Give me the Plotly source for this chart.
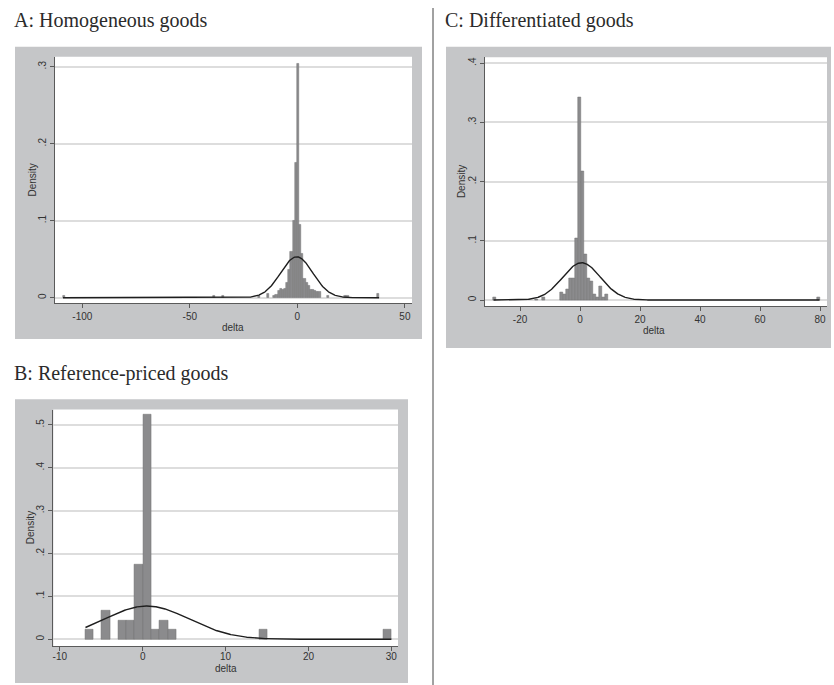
import numpy as np
import plotly.graph_objects as go

W, H = 834, 685

# ---------------- data ----------------
# Panel A: Homogeneous goods (bin width 1)
a_delta = [-108.7, -38.7, -34.7, -17.7, -13.7, -10.7,
           -9.7, -8.7, -7.7, -6.7, -5.7, -4.7, -3.7, -2.7, -1.7, -0.7,
           0.3, 1.3, 2.3, 3.3, 4.3, 5.3, 6.3, 7.3, 8.3, 9.3, 10.3,
           14.3, 22.3, 23.3, 37.3]
a_density = [0.003, 0.003, 0.003, 0.003, 0.005, 0.003,
             0.004, 0.009, 0.012, 0.010, 0.012, 0.020, 0.036, 0.060, 0.100, 0.175,
             0.304, 0.095, 0.057, 0.025, 0.019, 0.015, 0.011, 0.010, 0.009, 0.008, 0.008,
             0.003, 0.003, 0.002, 0.005]
a_mean, a_sd = -0.3, 7.5
a_min, a_max = -109.0, 38.0

# Panel B: Reference-priced goods (bin width 1)
b_delta = [-6.45, -4.45, -2.45, -1.45, -0.45, 0.55, 1.55, 2.55, 3.55, 14.55, 29.55]
b_density = [0.022, 0.066, 0.0435, 0.0435, 0.174, 0.523, 0.022, 0.0435, 0.022, 0.022, 0.022]
b_mean, b_sd = 0.5, 5.14
b_min, b_max = -6.9, 30.0

# Panel C: Differentiated goods (bin width 1)
c_delta = [-28.6, -14.4, -12.2,
           -6.3, -5.3, -4.3, -3.3, -2.3, -1.3, -0.3, 0.7, 1.7, 2.7, 3.7, 4.7, 5.7, 6.7, 7.7, 8.7,
           79.5]
c_density = [0.004, 0.002, 0.005,
             0.0135, 0.009, 0.018, 0.036, 0.036, 0.104, 0.342, 0.218, 0.077, 0.036, 0.031,
             0.009, 0.005, 0.0225, 0.005, 0.009,
             0.004]
c_mean, c_sd = 0.5, 6.33
c_min, c_max = -28.8, 79.8

bin_width = 1.0

a_xticks = [-100, -50, 0, 50]
a_yticks = [0, 0.1, 0.2, 0.3]
a_yticktext = ["0", ".1", ".2", ".3"]
b_xticks = [-10, 0, 10, 20, 30]
b_yticks = [0, 0.1, 0.2, 0.3, 0.4, 0.5]
b_yticktext = ["0", ".1", ".2", ".3", ".4", ".5"]
c_xticks = [-20, 0, 20, 40, 60, 80]
c_yticks = [0, 0.1, 0.2, 0.3, 0.4]
c_yticktext = ["0", ".1", ".2", ".3", ".4"]

titles = ["A: Homogeneous goods", "B: Reference-priced goods", "C: Differentiated goods"]
x_title = "delta"
y_title = "Density"

# ---------------- layout geometry (pixels) ----------------
def fx(px):
    return px / W

def fy(py):
    return 1 - py / H

panels = {
    "A": dict(box=(15, 46.7, 422, 339), plot=(55, 56.7, 412, 303.3),
              xr=[-112.7, 53.3], yr=[-0.00727, 0.313], ax="", title_xy=(12, 20.3),
              xt_xy=(233.5, 327.5), yt_xy=(31.5, 180), xstand=0),
    "B": dict(box=(15, 399.3, 408, 683), plot=(53.3, 409.5, 398, 646),
              xr=[-10.78, 30.8], yr=[-0.0156, 0.5357], ax="2", title_xy=(12, 373.3),
              xt_xy=(225.7, 668), yt_xy=(30.5, 527.7), xstand=-3),
    "C": dict(box=(446, 46.7, 831, 348), plot=(485, 57.3, 827, 306),
              xr=[-31.67, 82.3], yr=[-0.0101, 0.410], ax="3", title_xy=(442.5, 20.3),
              xt_xy=(654, 330.5), yt_xy=(461.5, 181.6), xstand=0),
}

BAR_FILL = "#8b8b8d"
BAR_LINE = "#707072"
BOX_GRAY = "#c5c6c8"
AXIS_COL = "#5a5a5a"
GRID_COL = "#dddddd"
TXT_COL = "#333333"
TICK_FONT = dict(family="Liberation Sans, Arial, sans-serif", size=10, color=TXT_COL)

fig = go.Figure()

series = {
    "A": (a_delta, a_density, a_mean, a_sd, a_min, a_max, a_xticks, a_yticks, a_yticktext),
    "B": (b_delta, b_density, b_mean, b_sd, b_min, b_max, b_xticks, b_yticks, b_yticktext),
    "C": (c_delta, c_density, c_mean, c_sd, c_min, c_max, c_xticks, c_yticks, c_yticktext),
}

shapes = []
annotations = []
layout_axes = {}

for i, key in enumerate(["A", "B", "C"]):
    p = panels[key]
    dx, dy, mu, sd, lo, hi, xt, yt, ytt = series[key]
    ax = p["ax"]
    xname = "x" + ax
    yname = "y" + ax

    fig.add_trace(go.Bar(
        x=dx, y=dy, width=bin_width,
        marker=dict(color=BAR_FILL, line=dict(color=BAR_LINE, width=0.5)),
        xaxis=xname, yaxis=yname, showlegend=False, hoverinfo="x+y",
    ))
    xs = np.linspace(lo, hi, 600)
    ys = np.exp(-0.5 * ((xs - mu) / sd) ** 2) / (sd * np.sqrt(2 * np.pi))
    fig.add_trace(go.Scatter(
        x=xs, y=ys, mode="lines", line=dict(color="#1e1e1e", width=1.4),
        xaxis=xname, yaxis=yname, showlegend=False, hoverinfo="skip",
    ))

    bx0, by0, bx1, by1 = p["box"]
    shapes.append(dict(type="rect", xref="paper", yref="paper",
                       x0=fx(bx0), x1=fx(bx1), y0=fy(by1), y1=fy(by0),
                       fillcolor=BOX_GRAY, line=dict(width=0), layer="below"))
    px0, py0, px1, py1 = p["plot"]
    shapes.append(dict(type="rect", xref="paper", yref="paper",
                       x0=fx(px0), x1=fx(px1), y0=fy(py1), y1=fy(py0),
                       fillcolor="white", line=dict(width=0), layer="below"))

    layout_axes["xaxis" + ax] = dict(
        domain=[fx(px0), fx(px1)], range=p["xr"], anchor=yname,
        tickvals=xt, ticktext=[str(v) for v in xt],
        showline=True, linecolor=AXIS_COL, linewidth=1,
        ticks="outside", ticklen=4, tickcolor=AXIS_COL, tickwidth=1,
        ticklabelstandoff=p["xstand"],
        showgrid=False, zeroline=False, tickfont=TICK_FONT,
        fixedrange=True,
    )
    layout_axes["yaxis" + ax] = dict(
        domain=[fy(py1), fy(py0)], range=p["yr"], anchor=xname,
        tickvals=yt, ticktext=ytt, tickangle=-90,
        showline=True, linecolor=AXIS_COL, linewidth=1,
        ticks="outside", ticklen=4, tickcolor=AXIS_COL, tickwidth=1,
        showgrid=True, gridcolor=GRID_COL, gridwidth=1.5,
        zeroline=False, tickfont=TICK_FONT,
        fixedrange=True,
    )

    tx, ty = p["title_xy"]
    annotations.append(dict(
        text=titles[i], xref="paper", yref="paper", x=fx(tx), y=fy(ty),
        xanchor="left", yanchor="middle", showarrow=False,
        font=dict(family="Liberation Serif, Times New Roman, serif", size=20, color="#2b2b2b"),
    ))
    xtx, xty = p["xt_xy"]
    annotations.append(dict(
        text=x_title, xref="paper", yref="paper", x=fx(xtx), y=fy(xty),
        xanchor="center", yanchor="middle", showarrow=False, font=TICK_FONT,
    ))
    ytx, yty = p["yt_xy"]
    annotations.append(dict(
        text=y_title, xref="paper", yref="paper", x=fx(ytx), y=fy(yty),
        xanchor="center", yanchor="middle", showarrow=False, textangle=-90, font=TICK_FONT,
    ))

# vertical divider
shapes.append(dict(type="line", xref="paper", yref="paper",
                   x0=fx(433), x1=fx(433), y0=fy(685), y1=fy(8),
                   line=dict(color="#444444", width=1)))

fig.update_layout(
    width=W, height=H,
    margin=dict(l=0, r=0, t=0, b=0),
    paper_bgcolor="white", plot_bgcolor="white",
    shapes=shapes, annotations=annotations,
    bargap=0, showlegend=False,
    **layout_axes,
)

fig.write_html(
    "out.html",
    config={"displayModeBar": False},
    post_script="document.body.style.margin='0';document.body.style.overflow='hidden';",
)
